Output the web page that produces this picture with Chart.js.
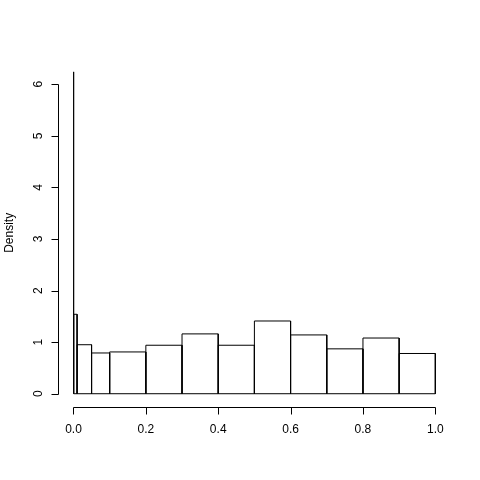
<!DOCTYPE html>
<html>
<head>
<meta charset="utf-8">
<script src="https://cdn.jsdelivr.net/npm/chart.js@4"></script>
<style>
  html, body { margin: 0; padding: 0; background: #fff; }
</style>
</head>
<body>
<canvas id="hist" width="480" height="480"></canvas>
<script>
// histogram bins (unequal widths) and densities
const breaks = [0, 0.001, 0.01, 0.05, 0.1, 0.2, 0.3, 0.4, 0.5, 0.6, 0.7, 0.8, 0.9, 1.0];
const density = [6.24, 1.54, 0.95, 0.79, 0.81, 0.94, 1.16, 0.94, 1.41, 1.14, 0.87, 1.08, 0.78];

const xTicks = [0, 0.2, 0.4, 0.6, 0.8, 1.0];
const xTickLabels = ['0.0', '0.2', '0.4', '0.6', '0.8', '1.0'];
const yTicks = [0, 1, 2, 3, 4, 5, 6];
const yTickLabels = ['0', '1', '2', '3', '4', '5', '6'];
const yTitle = 'Density';

const FONT = '12px "Liberation Sans", Arial, sans-serif';

// one closed outline per bin
const datasets = density.map((d, i) => {
  const x0 = breaks[i];
  const x1 = breaks[i + 1];
  return {
    data: [
      { x: x0, y: 0 }, { x: x0, y: d }, { x: x1, y: d }, { x: x1, y: 0 }, { x: x0, y: 0 },
    ],
    showLine: true,
    fill: false,
    borderColor: '#000',
    borderWidth: 1,
    pointRadius: 0,
    tension: 0,
  };
});

// R style axes: line only from first to last tick, ticks outward
const rAxes = {
  id: 'rAxes',
  afterDraw(chart) {
    const { ctx, chartArea } = chart;
    const xs = chart.scales.x;
    const ys = chart.scales.y;
    ctx.save();
    ctx.strokeStyle = '#000';
    ctx.fillStyle = '#000';
    ctx.lineWidth = 1;
    ctx.font = FONT;

    // x axis
    const yAx = Math.round(chartArea.bottom) + 0.5;
    const xa = xs.getPixelForValue(xTicks[0]);
    const xb = xs.getPixelForValue(xTicks[xTicks.length - 1]);
    ctx.beginPath();
    ctx.moveTo(Math.round(xa) + 0.5, yAx);
    ctx.lineTo(Math.round(xb) + 0.5, yAx);
    xTicks.forEach((v) => {
      const px = Math.round(xs.getPixelForValue(v)) + 0.5;
      ctx.moveTo(px, yAx);
      ctx.lineTo(px, yAx + 7);
    });
    ctx.stroke();
    ctx.textAlign = 'center';
    ctx.textBaseline = 'alphabetic';
    xTicks.forEach((v, i) => {
      ctx.fillText(xTickLabels[i], xs.getPixelForValue(v), 433);
    });

    // y axis
    const xAx = Math.round(chartArea.left) - 0.5;
    const ya = ys.getPixelForValue(yTicks[0]);
    const yb = ys.getPixelForValue(yTicks[yTicks.length - 1]);
    ctx.beginPath();
    ctx.moveTo(xAx, Math.round(ya) + 0.5);
    ctx.lineTo(xAx, Math.round(yb) + 0.5);
    yTicks.forEach((v) => {
      const py = Math.round(ys.getPixelForValue(v)) + 0.5;
      ctx.moveTo(xAx, py);
      ctx.lineTo(xAx - 7, py);
    });
    ctx.stroke();
    yTicks.forEach((v, i) => {
      ctx.save();
      ctx.translate(41.7, ys.getPixelForValue(v));
      ctx.rotate(-Math.PI / 2);
      ctx.fillText(yTickLabels[i], 0, 0);
      ctx.restore();
    });

    // y title
    ctx.save();
    ctx.translate(12.6, (chartArea.top + chartArea.bottom) / 2);
    ctx.rotate(-Math.PI / 2);
    ctx.fillText(yTitle, 0, 0);
    ctx.restore();

    ctx.restore();
  },
};

const yMax = Math.max(...density);

new Chart(document.getElementById('hist'), {
  type: 'scatter',
  data: { datasets },
  options: {
    responsive: false,
    animation: false,
    layout: {
      padding: { left: 59, top: 59, right: 30.2, bottom: 73.4 },
    },
    scales: {
      x: { type: 'linear', display: false, min: -0.04, max: 1.04 },
      y: { type: 'linear', display: false, min: -0.04 * yMax, max: yMax * 1.04 },
    },
    plugins: {
      legend: { display: false },
      tooltip: { enabled: false },
    },
  },
  plugins: [rAxes],
});
</script>
</body>
</html>
